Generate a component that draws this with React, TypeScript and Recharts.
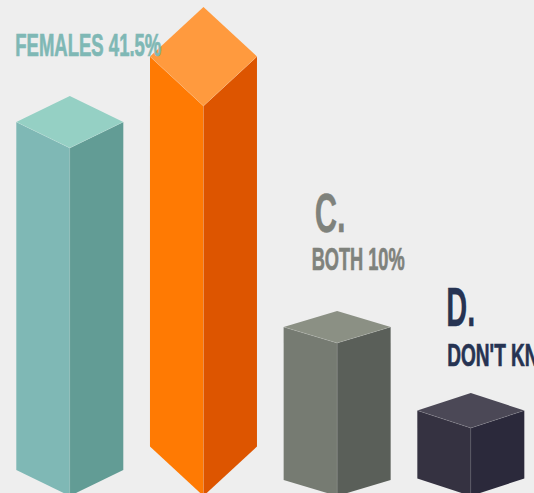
import { BarChart, Bar, XAxis, YAxis, LabelList } from "recharts";

const categories = ["Females", "Males", "Both", "Don't know"];
// height of each block's front edge
const blockHeights = [348, 390, 153, 68];
const letters = ["", "", "C.", "D."];
const captions = ["FEMALES 41.5%", "", "BOTH 10%", "DON'T KNOW"];

const leftFaces = ["#7fb8b5", "#ff7a03", "#767b72", "#353241"];
const rightFaces = ["#629c95", "#dd5500", "#5a5f59", "#2b293b"];
const topFaces = ["#95d0c4", "#ff9a3e", "#8b9084", "#4b4856"];
const textColors = ["#7fb8b5", "#ff7a03", "#7f827c", "#263352"];
const capDepths = [26, 49.5, 16, 17.5];
const captionWidths = [146, 0, 93, 124];
const captionGaps = [40, 0, 41, 27];
const letterGaps = [0, 0, 38, 40];
const letterWidths = [0, 0, 31, 29];
const letterIndents = [0, 0, 3, -1];
const textOffsets = [-1, 0, 28, 30];

const FONT = "'Liberation Sans Narrow', 'Liberation Sans', sans-serif";

const data = categories.map((name, i) => ({
  name,
  height: blockHeights[i],
  caption: captions[i],
}));

function IsoBlock(props: any) {
  const { x, y, width, height, index } = props;
  const d = capDepths[index];
  const mid = x + width / 2;
  const right = x + width;
  const bottom = y + height;
  const edge = "rgba(255,255,255,0.2)";
  return (
    <g>
      <polygon
        points={`${x},${y - d} ${mid},${y} ${mid},${bottom} ${x},${bottom - d}`}
        fill={leftFaces[index]}
      />
      <polygon
        points={`${mid},${y} ${right},${y - d} ${right},${bottom - d} ${mid},${bottom}`}
        fill={rightFaces[index]}
      />
      <polygon
        points={`${x},${y - d} ${mid},${y - 2 * d} ${right},${y - d} ${mid},${y}`}
        fill={topFaces[index]}
      />
      <polyline
        points={`${x},${y - d} ${mid},${y} ${right},${y - d}`}
        fill="none"
        stroke={edge}
        strokeWidth={0.7}
      />
      <line x1={mid} y1={y} x2={mid} y2={bottom} stroke={edge} strokeWidth={0.5} />
    </g>
  );
}

function BlockLabel(props: any) {
  const { x, y, index } = props;
  const caption = captions[index];
  if (!caption) return null;
  const left = x + textOffsets[index];
  const baseline = y - 2 * capDepths[index] - captionGaps[index];
  const color = textColors[index];
  return (
    <g fontFamily={FONT} fontWeight={700} fill={color} stroke={color}>
      {letters[index] && (
        <text
          x={left + letterIndents[index]}
          y={baseline - letterGaps[index]}
          fontSize={55}
          strokeWidth={0.3}
          textLength={letterWidths[index]}
          lengthAdjust="spacingAndGlyphs"
        >
          {letters[index]}
        </text>
      )}
      <text
        x={left}
        y={baseline}
        fontSize={31}
        strokeWidth={0.7}
        textLength={captionWidths[index]}
        lengthAdjust="spacingAndGlyphs"
      >
        {caption}
      </text>
    </g>
  );
}

export default function App() {
  return (
    <div
      style={{
        position: "fixed",
        left: 0,
        top: 0,
        width: 534,
        height: 493,
        overflow: "hidden",
        background: "#eeeeee",
      }}
    >
      <BarChart
        width={538}
        height={496}
        data={data}
        margin={{ top: 0, right: 0, bottom: 0, left: 3.3 }}
      >
        <XAxis dataKey="name" hide />
        <YAxis hide domain={[0, 496]} />
        <Bar
          dataKey="height"
          barSize={107}
          isAnimationActive={false}
          shape={(p: any) => <IsoBlock {...p} />}
        >
          <LabelList dataKey="caption" content={(p: any) => <BlockLabel {...p} />} />
        </Bar>
      </BarChart>
    </div>
  );
}
